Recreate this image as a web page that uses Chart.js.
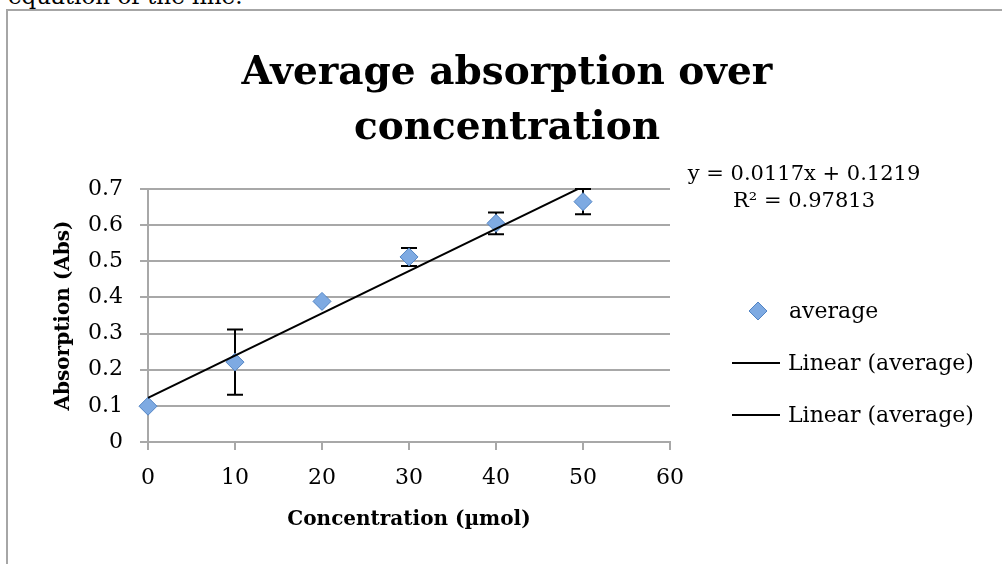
<!DOCTYPE html>
<html>
<head>
<meta charset="utf-8">
<script src="https://cdn.jsdelivr.net/npm/chart.js@4.4.1/dist/chart.umd.min.js"></script>
<style>
  html, body { margin: 0; padding: 0; background: #fff; overflow: hidden; }
  #pagina { position: relative; width: 1002px; height: 564px; overflow: hidden; }
  #texto { position: absolute; left: 8px; top: -15px; font: 23px "DejaVu Serif"; line-height: 1; color: #000; white-space: nowrap; }
  #moldura { position: absolute; left: 6px; top: 9px; width: 1100px; height: 700px; border: 2px solid #a6a6a6; }
  #grafico { position: absolute; left: 0; top: 0; }
</style>
</head>
<body>
<div id="pagina">
  <div id="texto">equation of the line.</div>
  <div id="moldura"></div>
  <canvas id="grafico" width="1002" height="564"></canvas>
</div>
<script>
// dados
var concentracao = [0, 10, 20, 30, 40, 50];
var absorcaoMedia = [0.099, 0.221, 0.389, 0.512, 0.605, 0.665];
var erroBarra = [0, 0.09, 0, 0.025, 0.03, 0.035];

// linha de tendencia (y = 0.0117x + 0.1219), do primeiro ao ultimo ponto
var tendenciaX = [0, 50];
var tendenciaY = [0.1219, 0.7069];

var ticksX = [0, 10, 20, 30, 40, 50, 60];
var ticksY = [0, 0.1, 0.2, 0.3, 0.4, 0.5, 0.6, 0.7];

var tituloLinhas = ['Average absorption over', 'concentration'];
var tituloX = 'Concentration (µmol)';
var tituloY = 'Absorption (Abs)';
var equacaoLinhas = ['y = 0.0117x + 0.1219', 'R² = 0.97813'];
var nomeSerie = 'average';
var nomeTendencia = 'Linear (average)';

var FONTE = 'DejaVu Serif';
var corPonto = '#7eaae2';
var corBordaPonto = '#5284c4';
var corGrade = '#a8a8a8';

// barras de erro, desenhadas antes dos pontos
var pluginErro = {
  id: 'barrasErro',
  beforeDatasetsDraw: function (chart) {
    var ctx = chart.ctx;
    var sx = chart.scales.x, sy = chart.scales.y;
    ctx.save();
    ctx.strokeStyle = '#000';
    ctx.lineWidth = 2;
    concentracao.forEach(function (c, i) {
      if (!erroBarra[i]) return;
      var px = sx.getPixelForValue(c);
      var topo = sy.getPixelForValue(absorcaoMedia[i] + erroBarra[i]);
      var base = sy.getPixelForValue(absorcaoMedia[i] - erroBarra[i]);
      ctx.beginPath();
      ctx.moveTo(px, topo); ctx.lineTo(px, base);
      ctx.moveTo(px - 8, topo); ctx.lineTo(px + 8, topo);
      ctx.moveTo(px - 8, base); ctx.lineTo(px + 8, base);
      ctx.stroke();
    });
    ctx.restore();
  }
};

// titulo, equacao e legenda no estilo do Excel
var pluginExtras = {
  id: 'extras',
  afterDraw: function (chart) {
    var ctx = chart.ctx;
    ctx.save();
    ctx.fillStyle = '#000';
    ctx.textAlign = 'center';
    ctx.textBaseline = 'alphabetic';
    ctx.font = 'bold 39px "' + FONTE + '"';
    ctx.fillText(tituloLinhas[0], 507, 84);
    ctx.fillText(tituloLinhas[1], 507, 139);

    ctx.font = '21px "' + FONTE + '"';
    ctx.fillText(equacaoLinhas[0], 804, 180);
    ctx.fillText(equacaoLinhas[1], 804, 207);

    // legenda
    ctx.fillStyle = corPonto;
    ctx.strokeStyle = corBordaPonto;
    ctx.lineWidth = 1;
    Chart.helpers.drawPoint(ctx, {
      pointStyle: 'rectRot', radius: 9, borderWidth: 1, rotation: 0
    }, 758, 311);

    ctx.fillStyle = '#000';
    ctx.strokeStyle = '#000';
    ctx.lineWidth = 2;
    ctx.font = '22px "' + FONTE + '"';
    ctx.textAlign = 'left';
    ctx.textBaseline = 'middle';
    ctx.fillText(nomeSerie, 789, 312);
    [363, 415].forEach(function (yy) {
      ctx.beginPath();
      ctx.moveTo(732, yy); ctx.lineTo(780, yy);
      ctx.stroke();
      ctx.fillText(nomeTendencia, 788, yy + 1);
    });
    ctx.restore();
  }
};

new Chart(document.getElementById('grafico').getContext('2d'), {
  type: 'scatter',
  data: {
    datasets: [
      {
        label: nomeTendencia,
        type: 'line',
        data: tendenciaX.map(function (x, i) { return { x: x, y: tendenciaY[i] }; }),
        borderColor: '#000',
        borderWidth: 2,
        pointRadius: 0,
        tension: 0,
        fill: false
      },
      {
        label: nomeSerie,
        data: concentracao.map(function (x, i) { return { x: x, y: absorcaoMedia[i] }; }),
        pointStyle: 'rectRot',
        pointRadius: 9,
        pointHoverRadius: 9,
        backgroundColor: corPonto,
        borderColor: corBordaPonto,
        borderWidth: 1,
        clip: false
      }
    ]
  },
  options: {
    responsive: false,
    animation: false,
    devicePixelRatio: 1,
    layout: { padding: { left: 0, right: 332, top: 189, bottom: 0 } },
    plugins: {
      legend: { display: false },
      title: { display: false },
      tooltip: { enabled: false }
    },
    scales: {
      x: {
        type: 'linear',
        position: 'bottom',
        min: 0,
        max: 60,
        afterBuildTicks: function (scale) {
          scale.ticks = ticksX.map(function (v) { return { value: v }; });
        },
        afterFit: function (scale) { scale.height = 122; },
        grid: { drawOnChartArea: false, drawTicks: true, tickLength: 8, color: corGrade, lineWidth: 2 },
        border: { display: true, color: corGrade, width: 2 },
        ticks: { font: { family: FONTE, size: 22 }, color: '#000', padding: 15, maxRotation: 0, autoSkip: false },
        title: {
          display: true,
          text: tituloX,
          color: '#000',
          font: { family: FONTE, size: 20, weight: 'bold' },
          padding: { top: 0, bottom: 32 }
        }
      },
      y: {
        type: 'linear',
        position: 'left',
        min: 0,
        max: 0.7,
        afterBuildTicks: function (scale) {
          scale.ticks = ticksY.map(function (v) { return { value: v }; });
        },
        afterFit: function (scale) { scale.width = 148; },
        grid: { drawOnChartArea: true, drawTicks: true, tickLength: 8, color: corGrade, lineWidth: 2 },
        border: { display: true, color: corGrade, width: 2 },
        ticks: {
          font: { family: FONTE, size: 22 },
          color: '#000',
          padding: 17,
          callback: function (v) { return String(Math.round(v * 10) / 10); }
        },
        title: {
          display: true,
          text: tituloY,
          color: '#000',
          font: { family: FONTE, size: 20, weight: 'bold' },
          padding: { top: 52, bottom: 0 }
        }
      }
    }
  },
  plugins: [pluginErro, pluginExtras]
});
</script>
</body>
</html>
